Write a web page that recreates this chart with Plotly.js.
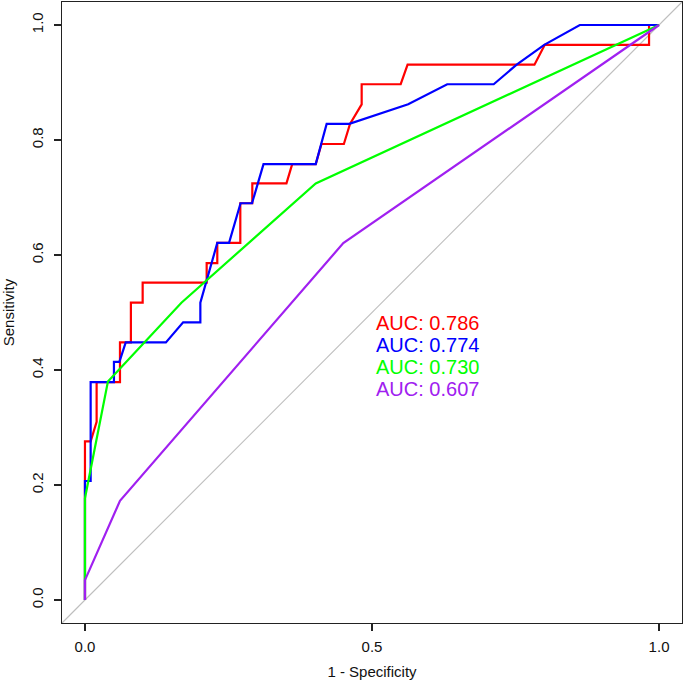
<!DOCTYPE html>
<html><head><meta charset="utf-8">
<script src="https://cdn.plot.ly/plotly-3.0.1.min.js"></script>
<style>html,body{margin:0;padding:0;background:#fff}#chart{width:685px;height:689px}</style>
</head><body><div id="chart"></div>
<script>
// ROC curve points (x = 1 - specificity, y = sensitivity)
const redFpr = [0, 0, 0.0099, 0.0203, 0.0203, 0.061, 0.061, 0.080, 0.080, 0.1005, 0.1005, 0.212, 0.212, 0.2305, 0.2305, 0.2706, 0.2706, 0.2915, 0.2915, 0.351, 0.361, 0.402, 0.412, 0.451, 0.4617, 0.482, 0.482, 0.550, 0.562, 0.783, 0.801, 0.9826, 0.9826, 1];
const redTpr = [0, 0.2759, 0.2759, 0.310, 0.379, 0.379, 0.448, 0.448, 0.517, 0.517, 0.552, 0.552, 0.586, 0.586, 0.621, 0.621, 0.690, 0.690, 0.7245, 0.7245, 0.758, 0.758, 0.793, 0.793, 0.828, 0.862, 0.897, 0.897, 0.931, 0.931, 0.9655, 0.9655, 1, 1];

const blueFpr = [0, 0, 0.0099, 0.0099, 0.0505, 0.0505, 0.060, 0.071, 0.141, 0.171, 0.201, 0.201, 0.2305, 0.251, 0.271, 0.291, 0.311, 0.402, 0.421, 0.4605, 0.563, 0.631, 0.712, 0.752, 0.800, 0.862, 1];
const blueTpr = [0, 0.207, 0.207, 0.379, 0.379, 0.414, 0.414, 0.448, 0.448, 0.483, 0.483, 0.517, 0.621, 0.621, 0.690, 0.690, 0.758, 0.758, 0.828, 0.828, 0.862, 0.897, 0.897, 0.931, 0.9655, 1, 1];

const greenFpr = [0, 0, 0.040, 0.168, 0.402, 1];
const greenTpr = [0, 0.177, 0.380, 0.517, 0.7245, 1];

const purpleFpr = [0, 0, 0.061, 0.450, 1];
const purpleTpr = [0, 0.0345, 0.1725, 0.6207, 1];

const aucLabels = ['AUC: 0.786', 'AUC: 0.774', 'AUC: 0.730', 'AUC: 0.607'];
const xTicks = [0, 0.5, 1];
const xTickText = ['0.0', '0.5', '1.0'];
const yTicks = [0, 0.2, 0.4, 0.6, 0.8, 1];
const yTickText = ['0.0', '0.2', '0.4', '0.6', '0.8', '1.0'];

const colors = ['#FF0000', '#0000FF', '#00FF00', '#A020F0'];
const series = [[redFpr, redTpr], [blueFpr, blueTpr], [greenFpr, greenTpr], [purpleFpr, purpleTpr]];

const FONT = 'Liberation Sans, Arial, Helvetica, sans-serif';

const traces = series.map((s, i) => ({
  x: s[0], y: s[1], type: 'scatter', mode: 'lines',
  line: {color: colors[i], width: 2.2},
  hoverinfo: 'skip', showlegend: false
}));

const annotations = aucLabels.map((t, i) => ({
  text: t, xref: 'x', yref: 'y', x: 0.503, y: 0.482 - i * 0.0382,
  xanchor: 'left', yanchor: 'middle', showarrow: false,
  font: {family: FONT, size: 20, color: colors[i]}
}));

const axisCommon = {
  range: [-0.04, 1.04], showgrid: false, zeroline: false,
  showline: true, mirror: true, linecolor: '#222', linewidth: 1.3,
  ticks: 'outside', ticklen: 7, tickwidth: 1.2, tickcolor: '#222',
  tickfont: {family: FONT, size: 15, color: '#111'},
  automargin: false
};

const layout = {
  width: 685, height: 689,
  margin: {l: 62, r: 3, t: 2, b: 66},
  paper_bgcolor: '#fff', plot_bgcolor: '#fff',
  xaxis: Object.assign({}, axisCommon, {
    tickvals: xTicks, ticktext: xTickText, ticklabelstandoff: 3,
    title: {text: '1 - Specificity', font: {family: FONT, size: 15, color: '#111'}, standoff: 12}
  }),
  yaxis: Object.assign({}, axisCommon, {
    tickvals: yTicks, ticktext: yTickText, tickangle: -90, ticklabelstandoff: 5,
    title: {text: 'Sensitivity', font: {family: FONT, size: 15, color: '#111'}, standoff: 12}
  }),
  shapes: [{type: 'line', xref: 'paper', yref: 'paper', x0: 0, y0: 0, x1: 1, y1: 1,
            line: {color: '#BEBEBE', width: 1.1}, layer: 'below'}],
  annotations: annotations
};

Plotly.newPlot('chart', traces, layout, {displayModeBar: false, staticPlot: true});
</script>
</body></html>
